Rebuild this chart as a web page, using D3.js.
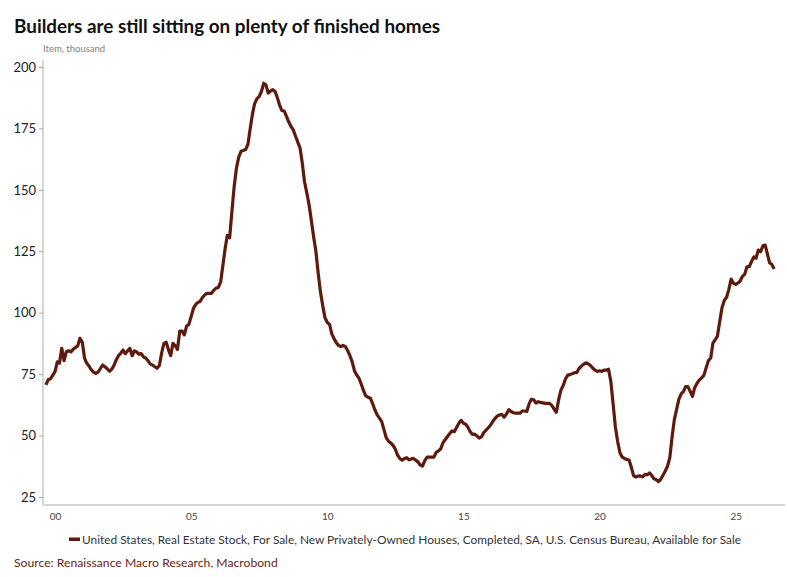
<!DOCTYPE html>
<html>
<head>
<meta charset="utf-8">
<script src="https://cdn.jsdelivr.net/npm/d3@7/dist/d3.min.js"></script>
<style>
  html, body { margin: 0; padding: 0; background: #fff; }
  svg { display: block; font-family: Lato, "Open Sans", sans-serif; }
</style>
</head>
<body>
<svg id="chart" width="787" height="577"></svg>
<script>
// ---- Data (monthly, thousand units) ----
const startMonth = "1999-09"; // first observation
const values = [
  70.6, 72.7, 73.1, 74.5,
  76, 80, 79.5, 85.5, 80.5, 84.1, 84.5, 84.1, 85.1, 85.8, 86.5, 89.6,
  88, 81.4, 79.5, 78.3, 76.8, 75.8, 75.3, 75.8, 77.3, 78.7, 78, 77.2,
  76.2, 77, 78.5, 80.8, 82.5, 83.5, 84.8, 83.3, 84.5, 85.5, 82.5, 84.5,
  84, 83.1, 83.4, 82, 81.6, 80.5, 79.2, 78.7, 78, 77.4, 78.5, 83.5,
  87.5, 88, 85, 82.5, 87.5, 86.6, 85.1, 92.5, 92.5, 91, 94.6, 95.3,
  98.5, 101.8, 103.3, 104.2, 104.6, 106.2, 107.2, 107.9, 107.9, 107.9, 109.2, 110,
  110.3, 112.6, 119, 126, 131.5, 130.5, 141, 151.5, 159, 163.3, 165.7, 166,
  166.4, 168.5, 174.4, 180.5, 185, 187, 188, 190, 193.4, 192.7, 189.4, 190.2,
  190.8, 190, 187.6, 184.5, 182.3, 182.1, 180, 177.7, 175.8, 174.5, 171.8, 169.4,
  167, 160.5, 153.4, 148.8, 144, 137.5, 131, 125, 116, 108.5, 102.8, 98,
  96, 95.2, 91.5, 89.5, 87.8, 86.7, 86.2, 86.7, 86.2, 84.6, 82.5, 80,
  76.3, 74.6, 73.4, 71, 68.4, 66.2, 65.6, 65.2, 63, 60.5, 58.4, 57.1,
  55.7, 52.3, 49.2, 47.7, 47, 46, 44.5, 42, 40.6, 40, 40.7, 41,
  40.1, 40.5, 40.7, 40, 39.3, 38, 37.6, 39.8, 41.2, 41.2, 41.2, 41.2,
  43.2, 43.8, 44.5, 47, 48.3, 49.6, 50.8, 51.9, 51.6, 53.3, 55, 56.2,
  55, 54.6, 53.5, 51.6, 50.5, 50.6, 49.8, 49, 49.5, 51.2, 52.2, 53.2,
  54.3, 55.8, 57, 58, 58.4, 58.6, 57.5, 58.8, 60.5, 59.8, 59.3, 59.1,
  59.1, 59.1, 60, 60, 59.8, 63, 64.8, 64.6, 63.2, 63.8, 63.5, 63.3,
  63.1, 63.1, 63.1, 62.3, 60.8, 59.5, 64.5, 68.5, 70.4, 73, 74.6, 74.8,
  75.2, 75.6, 75.6, 77.3, 78.2, 79, 79.6, 79.2, 78.5, 77.5, 76.6, 76.1,
  76.4, 76.1, 76.6, 76.6, 77, 72, 63, 53.5, 47.5, 43, 41.2, 40.7,
  40.3, 40, 37.3, 33.8, 33.1, 33.5, 33.6, 33.2, 34.2, 34, 34.8, 33.8,
  32.4, 32, 31.3, 32.2, 33.8, 35.6, 37.5, 41, 49.6, 56.5, 60.8, 64.8,
  67, 68, 69.9, 69.9, 68, 66, 69.5, 71.3, 72.6, 73.5, 74.5, 77.5,
  80.5, 81.6, 87.6, 89, 90.5, 96.5, 102, 105, 106.3, 109.5, 113.7, 112,
  111.5, 112.1, 112.8, 114.8, 115.6, 118.7, 118.7, 120.8, 122.7, 122.2, 125.5, 124.8,
  127.2, 127.5, 124, 120.3, 119.6, 117.8
];
const yTicks = [25, 50, 75, 100, 125, 150, 175, 200];
const xTickYears = [2000, 2005, 2010, 2015, 2020, 2025];
const titleText = "Builders are still sitting on plenty of finished homes";
const unitText = "Item, thousand";
const legendText = "United States, Real Estate Stock, For Sale, New Privately-Owned Houses, Completed, SA, U.S. Census Bureau, Available for Sale";
const sourceText = "Source: Renaissance Macro Research, Macrobond";

// ---- Build series ----
const parseMonth = d3.timeParse("%Y-%m");
const t0 = parseMonth(startMonth);
const series = values.map((v, i) => ({ date: d3.timeMonth.offset(t0, i), value: v }));

const lineColor = "#5e1b0d";
const svg = d3.select("#chart");

const x = d3.scaleTime()
  .domain([new Date(2000, 0, 1), new Date(2025, 0, 1)])
  .range([55, 735.7]);
const y = d3.scaleLinear().domain([25, 200]).range([497, 67]);

const plotLeft = 43, plotRight = 785, plotTop = 60, plotBottom = 505;

// title
svg.append("text").attr("x", 14).attr("y", 33)
  .attr("font-size", 19).attr("font-weight", "bold").attr("fill", "#111")
  .attr("textLength", 426).attr("lengthAdjust", "spacingAndGlyphs")
  .text(titleText);
svg.append("text").attr("x", 43).attr("y", 52)
  .attr("font-size", 9.5).attr("fill", "#808080")
  .text(unitText);

// axes lines
svg.append("line").attr("x1", plotLeft).attr("x2", plotLeft)
  .attr("y1", plotTop).attr("y2", plotBottom)
  .attr("stroke", "#c8c8c8").attr("stroke-width", 1.5);
svg.append("line").attr("x1", plotLeft).attr("x2", plotRight)
  .attr("y1", plotBottom).attr("y2", plotBottom)
  .attr("stroke", "#c8c8c8").attr("stroke-width", 1.5);

// y axis
const yAxis = d3.axisLeft(y).tickValues(yTicks).tickSize(4).tickPadding(3);
const gy = svg.append("g").attr("transform", `translate(${plotLeft},0)`).call(yAxis);
gy.select(".domain").remove();
gy.selectAll(".tick line").attr("stroke", "#aaa");
gy.selectAll(".tick text").attr("font-size", 13).attr("fill", "#222")
  .attr("font-family", "Lato, sans-serif");

// x axis
const xAxis = d3.axisBottom(x)
  .tickValues(xTickYears.map(yr => new Date(yr, 0, 1)))
  .tickFormat(d3.timeFormat("%y")).tickSize(0).tickPadding(8);
const gx = svg.append("g").attr("transform", `translate(0,${plotBottom})`).call(xAxis);
gx.select(".domain").remove();
gx.selectAll(".tick text").attr("font-size", 10).attr("fill", "#444")
  .attr("font-family", "Lato, sans-serif");

// line
const line = d3.line().x(d => x(d.date)).y(d => y(d.value));
svg.append("path").datum(series)
  .attr("d", line).attr("fill", "none")
  .attr("stroke", lineColor).attr("stroke-width", 3.2)
  .attr("stroke-linejoin", "round");

// legend
svg.append("rect").attr("x", 69).attr("y", 537.5).attr("width", 11).attr("height", 3.5)
  .attr("fill", lineColor);
svg.append("text").attr("x", 82).attr("y", 544)
  .attr("font-size", 12).attr("fill", "#333")
  .attr("textLength", 659).attr("lengthAdjust", "spacingAndGlyphs")
  .text(legendText);

// source
svg.append("text").attr("x", 14).attr("y", 567)
  .attr("font-size", 12.2).attr("fill", "#6b2412").text(sourceText);
</script>
</body>
</html>
